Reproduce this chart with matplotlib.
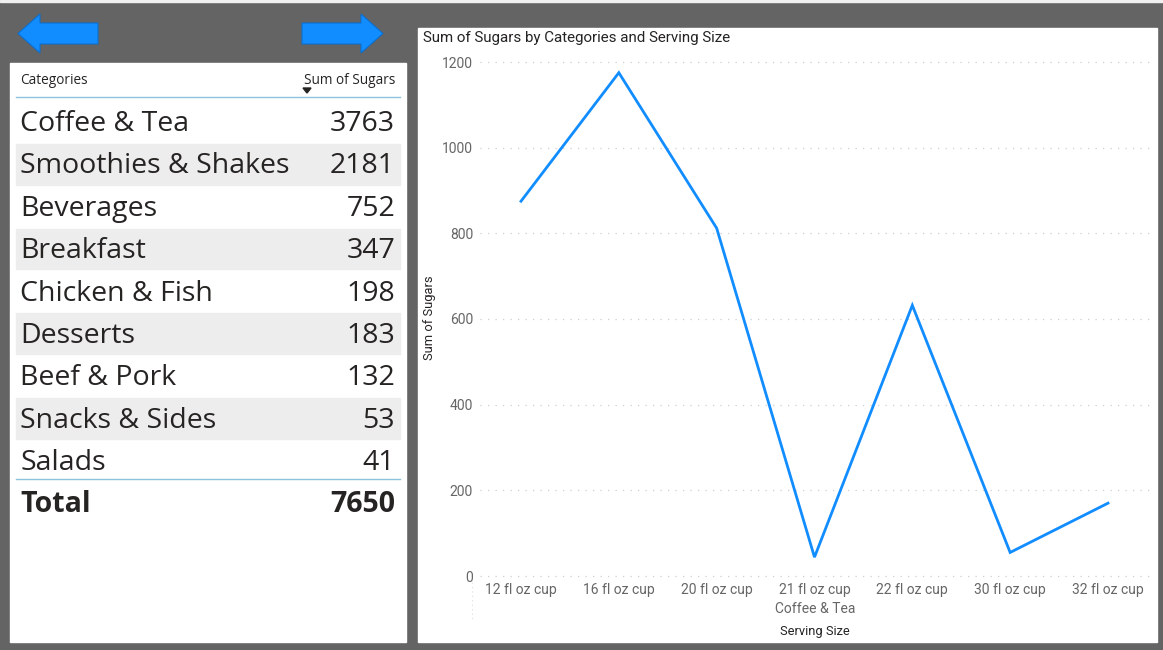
import matplotlib
matplotlib.use("Agg")
import matplotlib.pyplot as plt
from matplotlib.patches import Rectangle, Polygon

# ---- data ----
categories = ["Coffee & Tea", "Smoothies & Shakes", "Beverages", "Breakfast",
              "Chicken & Fish", "Desserts", "Beef & Pork", "Snacks & Sides", "Salads"]
sugars = [3763, 2181, 752, 347, 198, 183, 132, 53, 41]
total_sugars = 7650

serving_sizes = ["12 fl oz cup", "16 fl oz cup", "20 fl oz cup", "21 fl oz cup",
                 "22 fl oz cup", "30 fl oz cup", "32 fl oz cup"]
coffee_tea_sugars = [875, 1175, 812, 44, 632, 55, 170]
y_ticks = [0, 200, 400, 600, 800, 1000, 1200]

W, H = 1163, 650
fig = plt.figure(figsize=(W / 100, H / 100), dpi=100)
fig.patch.set_facecolor("#646464")

bg = fig.add_axes([0, 0, 1, 1])
bg.set_xlim(0, W)
bg.set_ylim(H, 0)
bg.axis("off")

BLUE = "#118DFF"
FONT = ["Open Sans", "DejaVu Sans"]
CFONT = ["Roboto", "DejaVu Sans"]

# top strip
bg.add_patch(Rectangle((0, 0), W, 2, color="#f0f0f0", zorder=1))

# panels
bg.add_patch(Rectangle((10, 63), 396, 579, color="white", zorder=1))
bg.add_patch(Rectangle((418, 28), 739, 614, color="white", zorder=1))

# arrows
left_arrow = [(18, 33.5), (40, 14), (40, 23), (98, 23), (98, 44), (40, 44), (40, 53)]
right_arrow = [(383, 33.5), (361, 14), (361, 23), (302, 23), (302, 44), (361, 44), (361, 53)]
for pts in (left_arrow, right_arrow):
    bg.add_patch(Polygon(pts, closed=True, facecolor=BLUE, edgecolor="#0b6fd0", lw=0.8, zorder=2))

# table header
bg.text(20, 80, "Categories", fontsize=9.8, family=FONT, color="#252423", va="center", ha="left", zorder=3)
bg.text(395, 80, "Sum of Sugars", fontsize=9.8, family=FONT, color="#252423", va="center", ha="right", zorder=3)
bg.add_patch(Polygon([(303, 88), (311, 88), (307, 93)], closed=True, color="#252423", zorder=3))
bg.plot([16, 400], [97, 97], color="#8ec3e0", lw=1, zorder=3)

row_h = 42.4
y0 = 122
for i, (c, v) in enumerate(zip(categories, sugars)):
    yc = y0 + i * row_h
    if i % 2 == 1:
        bg.add_patch(Rectangle((16, yc - row_h / 2 + 0.5), 384, row_h - 1.5,
                               color="#eeeded", zorder=2))
    bg.text(20, yc + 2, c, fontsize=20.5, family=FONT, color="#252423", va="center", ha="left", zorder=3)
    bg.text(395, yc + 2, str(v), fontsize=20.5, family=FONT, color="#252423", va="center", ha="right", zorder=3)

bg.plot([16, 400], [479, 479], color="#8ec3e0", lw=1, zorder=3)
bg.text(20, 504, "Total", fontsize=20.5, family=FONT, fontweight="bold", color="#252423",
        va="center", ha="left", zorder=3)
bg.text(395, 504, str(total_sugars), fontsize=20.5, family=FONT, fontweight="bold", color="#252423",
        va="center", ha="right", zorder=3)

# chart title
bg.text(423, 38, "Sum of Sugars by Categories and Serving Size", fontsize=10.9,
        family=CFONT, color="#252423", va="center", ha="left", zorder=3)

# line chart axes
ax_l, ax_r, ax_t, ax_b = 480, 1150, 62, 576
ax = fig.add_axes([ax_l / W, 1 - ax_b / H, (ax_r - ax_l) / W, (ax_b - ax_t) / H])
ax.set_facecolor("none")
x = list(range(len(serving_sizes)))
ax.plot(x, coffee_tea_sugars, color=BLUE, lw=2.0, solid_joinstyle="miter", clip_on=False, zorder=3)
ax.set_xlim((ax_l - 521) / 97.83, (ax_r - 521) / 97.83)
ax.set_ylim(0, 1200)
ax.set_yticks(y_ticks)
ax.set_yticklabels([str(t) for t in y_ticks])
for t in y_ticks:
    ax.axhline(t, color="#cfcfcf", lw=0.9, ls=(0, (1, 5)), zorder=1, clip_on=False)
ax.set_xticks(x)
ax.set_xticklabels(serving_sizes)
for s in ax.spines.values():
    s.set_visible(False)
ax.tick_params(axis="both", length=0, labelsize=10, labelcolor="#666666")
ax.tick_params(axis="y", pad=5)
ax.tick_params(axis="x", pad=5)
for lab in ax.get_xticklabels() + ax.get_yticklabels():
    lab.set_family(CFONT)

# hierarchical category label and axis titles
bg.text(815, 609, "Coffee & Tea", fontsize=10, family=CFONT, color="#666666",
        va="center", ha="center", zorder=3)
bg.plot([472, 472], [582, 622], color="#dddddd", lw=0.8, ls=(0, (1, 3)), zorder=3)
bg.text(815, 632, "Serving Size", fontsize=9.3, family=CFONT, color="#252423",
        va="center", ha="center", zorder=3)
bg.text(430, 318, "Sum of Sugars", fontsize=9.3, family=CFONT, color="#252423",
        va="center", ha="center", rotation=90, zorder=3)

fig.savefig("out.png", dpi=100)
